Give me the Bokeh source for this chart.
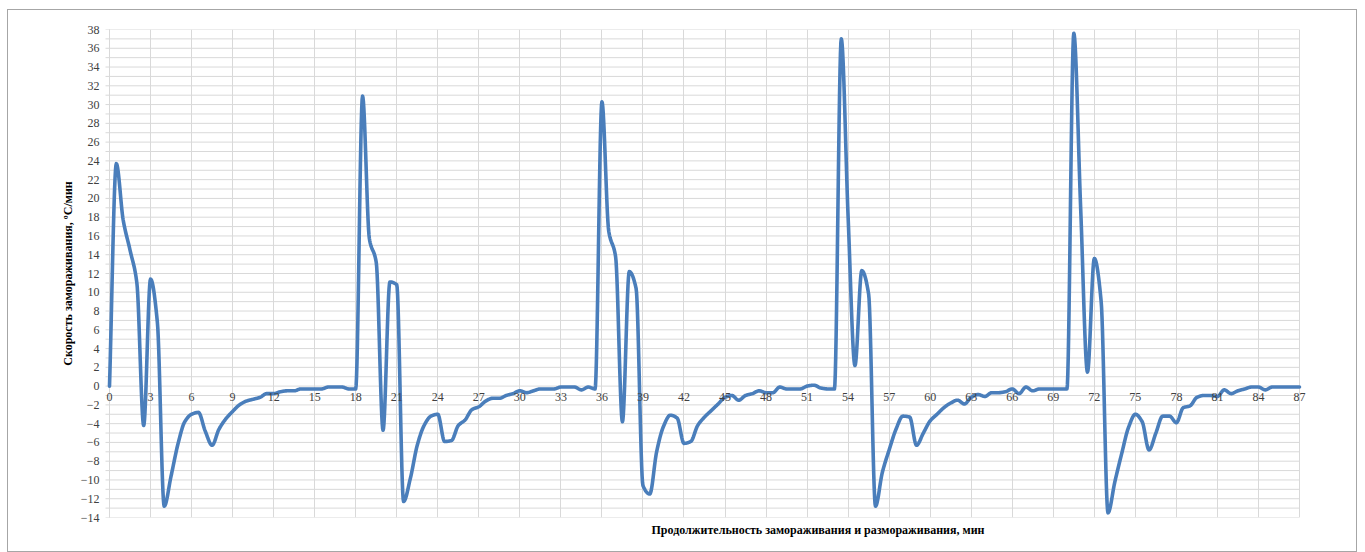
from bokeh.plotting import figure
from bokeh.models import FixedTicker, Title
from bokeh.embed import file_html
from bokeh.resources import INLINE

# Time, min (sampled every half minute)
minutes = [
    0, 0.5, 1, 1.5, 2, 2.5, 3, 3.5, 4, 4.5, 5, 5.5,
    6, 6.5, 7, 7.5, 8, 8.5, 9, 9.5, 10, 10.5, 11, 11.5,
    12, 12.5, 13, 13.5, 14, 14.5, 15, 15.5, 16, 16.5, 17, 17.5,
    18, 18.5, 19, 19.5, 20, 20.5, 21, 21.5, 22, 22.5, 23, 23.5,
    24, 24.5, 25, 25.5, 26, 26.5, 27, 27.5, 28, 28.5, 29, 29.5,
    30, 30.5, 31, 31.5, 32, 32.5, 33, 33.5, 34, 34.5, 35, 35.5,
    36, 36.5, 37, 37.5, 38, 38.5, 39, 39.5, 40, 40.5, 41, 41.5,
    42, 42.5, 43, 43.5, 44, 44.5, 45, 45.5, 46, 46.5, 47, 47.5,
    48, 48.5, 49, 49.5, 50, 50.5, 51, 51.5, 52, 52.5, 53, 53.5,
    54, 54.5, 55, 55.5, 56, 56.5, 57, 57.5, 58, 58.5, 59, 59.5,
    60, 60.5, 61, 61.5, 62, 62.5, 63, 63.5, 64, 64.5, 65, 65.5,
    66, 66.5, 67, 67.5, 68, 68.5, 69, 69.5, 70, 70.5, 71, 71.5,
    72, 72.5, 73, 73.5, 74, 74.5, 75, 75.5, 76, 76.5, 77, 77.5,
    78, 78.5, 79, 79.5, 80, 80.5, 81, 81.5, 82, 82.5, 83, 83.5,
    84, 84.5, 85, 85.5, 86, 86.5, 87,
]

# Freezing / thawing rate, degC per min
rate = [
    0.0, 23.7, 17.7, 14.5, 11.0, -4.2,
    11.4, 6.8, -12.8, -9.6, -6.2, -3.8,
    -3.0, -2.8, -4.8, -6.3, -4.6, -3.5,
    -2.7, -2.0, -1.6, -1.4, -1.2, -0.8,
    -0.8, -0.6, -0.5, -0.5, -0.3, -0.3,
    -0.3, -0.3, -0.1, -0.1, -0.1, -0.3,
    -0.3, 30.9, 15.7, 13.2, -4.7, 11.1,
    10.8, -12.3, -9.8, -6.3, -4.2, -3.2,
    -3.0, -5.9, -5.8, -4.2, -3.6, -2.5,
    -2.2, -1.6, -1.3, -1.3, -1.0, -0.8,
    -0.5, -0.7, -0.5, -0.3, -0.3, -0.3,
    -0.1, -0.1, -0.1, -0.4, -0.1, -0.3,
    30.3, 16.5, 13.8, -3.8, 12.2, 10.4,
    -10.6, -11.5, -7.0, -4.3, -3.1, -3.4,
    -6.1, -5.9, -4.2, -3.3, -2.6, -1.9,
    -1.2, -1.0, -1.5, -1.0, -0.8, -0.5,
    -0.7, -0.7, -0.1, -0.3, -0.3, -0.3,
    0.0, 0.1, -0.2, -0.3, -0.3, 37.0,
    18.0, 2.2, 12.3, 9.8, -12.8, -9.2,
    -6.8, -4.6, -3.2, -3.3, -6.3, -5.0,
    -3.7, -3.0, -2.3, -1.8, -1.5, -1.9,
    -1.2, -0.9, -1.1, -0.7, -0.7, -0.6,
    -0.3, -0.8, -0.1, -0.5, -0.3, -0.3,
    -0.3, -0.3, -0.3, 37.6, 19.0, 1.5,
    13.6, 9.0, -13.5, -10.2, -7.2, -4.4,
    -3.0, -3.8, -6.8, -5.0, -3.2, -3.2,
    -3.9, -2.3, -2.1, -1.2, -1.0, -1.0,
    -1.1, -0.4, -0.8, -0.5, -0.3, -0.1,
    -0.1, -0.4, -0.1, -0.1, -0.1, -0.1,
    -0.1,
]

x_ticks = [0, 3, 6, 9, 12, 15, 18, 21, 24, 27, 30, 33, 36, 39, 42, 45,
           48, 51, 54, 57, 60, 63, 66, 69, 72, 75, 78, 81, 84, 87]
y_ticks = [-14, -12, -10, -8, -6, -4, -2, 0, 2, 4, 6, 8, 10, 12, 14, 16,
           18, 20, 22, 24, 26, 28, 30, 32, 34, 36, 38]
y_grid = list(range(-14, 39))

x_title = "Продолжительность замораживания и размораживания, мин"
y_title = "Скорость замораживания, ºС/мин"


def smoothed(xs, ys, steps=16):
    """Shape-preserving cubic Hermite smoothing between the samples."""
    n = len(xs)
    d = [(ys[i + 1] - ys[i]) / (xs[i + 1] - xs[i]) for i in range(n - 1)]
    m = [0.0] * n
    m[0], m[-1] = d[0], d[-1]
    for i in range(1, n - 1):
        if d[i - 1] * d[i] <= 0:
            m[i] = 0.0
        else:
            m[i] = 2.0 / (1.0 / d[i - 1] + 1.0 / d[i])
    out_x, out_y = [], []
    for i in range(n - 1):
        h = xs[i + 1] - xs[i]
        for k in range(steps):
            s = k / steps
            h00 = 2 * s ** 3 - 3 * s ** 2 + 1
            h10 = s ** 3 - 2 * s ** 2 + s
            h01 = -2 * s ** 3 + 3 * s ** 2
            h11 = s ** 3 - s ** 2
            out_x.append(xs[i] + s * h)
            out_y.append(h00 * ys[i] + h10 * h * m[i]
                         + h01 * ys[i + 1] + h11 * h * m[i + 1])
    out_x.append(xs[-1])
    out_y.append(ys[-1])
    return out_x, out_y


SERIF = "Liberation Serif"
PX_PER_MIN = 1190 / 87          # horizontal scale of the plotting area
PAD = 8 / PX_PER_MIN            # room so the end tick labels are not cut
TICK = 4 / PX_PER_MIN           # length of the outward tick stubs

p = figure(
    width=1350, height=543,
    x_range=(-PAD, 87 + PAD), y_range=(-14, 38),
    output_backend="svg", toolbar_location=None,
    min_border_left=93, min_border_right=51,
    min_border_top=19, min_border_bottom=36,
)
p.styles = {"margin-left": "7px", "margin-top": "9px",
            "border": "1px solid #a6a6a6"}
p.outline_line_color = None
p.background_fill_color = "white"
p.border_fill_color = "white"

# vertical grid every 3 minutes
p.xgrid.ticker = FixedTicker(ticks=x_ticks)
p.xgrid.grid_line_color = "#d9d9d9"
p.ygrid.visible = False

# horizontal grid every unit, with short stubs left of the value axis
p.segment(x0=[-TICK] * len(y_grid), x1=[87] * len(y_grid),
          y0=y_grid, y1=y_grid, line_color="#d9d9d9", line_width=1,
          level="underlay")
# value axis line
p.segment(x0=[0], x1=[0], y0=[-14], y1=[38], line_color="#bfbfbf",
          line_width=1, level="underlay")

# x axis runs along the zero line
p.xaxis.fixed_location = 0
p.xaxis.ticker = FixedTicker(ticks=x_ticks, minor_ticks=[])
p.xaxis.axis_line_color = None
p.xaxis.major_tick_line_color = None
p.xaxis.minor_tick_line_color = None
p.xaxis.major_tick_in = 0
p.xaxis.major_tick_out = 0
p.xaxis.minor_tick_in = 0
p.xaxis.minor_tick_out = 0
p.xaxis.major_label_standoff = 7
p.xaxis.major_label_text_font = SERIF
p.xaxis.major_label_text_font_size = "12px"
p.xaxis.major_label_text_color = "#404040"

# y axis: labels only, the line and stubs are drawn above
p.yaxis.ticker = FixedTicker(ticks=y_ticks, minor_ticks=[])
p.yaxis.axis_line_color = None
p.yaxis.major_tick_line_color = None
p.yaxis.minor_tick_line_color = None
p.yaxis.major_tick_out = 0
p.yaxis.major_tick_in = 0
p.yaxis.minor_tick_out = 0
p.yaxis.minor_tick_in = 0
p.yaxis.major_label_standoff = 2
p.yaxis.major_label_text_font = SERIF
p.yaxis.major_label_text_font_size = "12px"
p.yaxis.major_label_text_color = "#404040"
p.yaxis.axis_label = y_title
p.yaxis.axis_label_text_font = SERIF
p.yaxis.axis_label_text_font_size = "12px"
p.yaxis.axis_label_text_font_style = "bold"
p.yaxis.axis_label_text_color = "black"
p.yaxis.axis_label_standoff = 3

p.add_layout(Title(text=x_title, align="left", offset=550,
                   text_font=SERIF, text_font_size="12px",
                   text_font_style="bold", text_color="black",
                   standoff=7), "below")

sx, sy = smoothed(minutes, rate)
p.line(sx, sy, line_color="#4a7ebb", line_width=3.6,
       line_join="round", line_cap="round")

open("out.html", "w").write(file_html(p, INLINE))
